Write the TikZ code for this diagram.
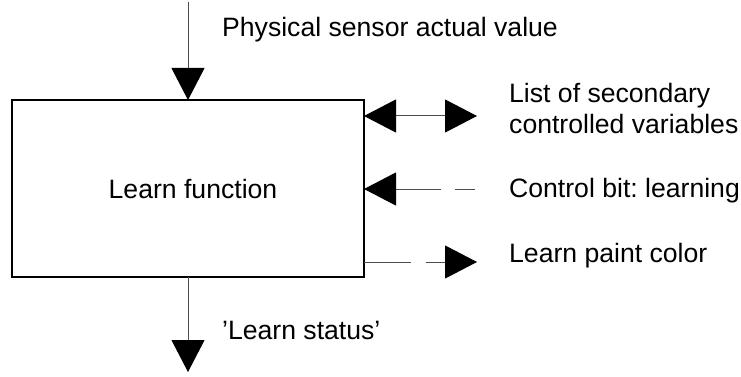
\documentclass[tikz,border=0pt]{standalone}
\usepackage{fontspec}
\setmainfont{Liberation Sans}
\usetikzlibrary{arrows.meta}
\frenchspacing
\begin{document}
\begin{tikzpicture}[x=1pt,y=-1pt,
  lbl/.style={anchor=base west,inner sep=0pt,font=\fontsize{26.6}{31}\selectfont},
  conn/.style={draw=black!70,line width=1pt},
  bighead/.style={-{Triangle[length=32pt,width=33pt,color=black]}},
  twohead/.style={{Triangle[length=32pt,width=33pt,color=black]}-{Triangle[length=32pt,width=33pt,color=black]}}]
\useasboundingbox (0,0) rectangle (741,377);
\node[draw,line width=2pt,outer sep=0pt,minimum width=352pt,minimum height=177pt,inner sep=0pt,
  font=\fontsize{26.6}{31}\selectfont] (box) at (188,188.5) {\hspace{10pt}Learn function};
\coordinate (top) at (188,2);
\coordinate (bot) at (188,372);
\coordinate (d1) at (477,116);
\coordinate (c1) at (475,189);
\coordinate (p1) at (477,262);
\draw[conn,bighead] (top) -- (box.north);
\draw[conn,bighead] (box.south) -- (bot);
\draw[conn,twohead] (d1 -| box.east) -- (d1);
\draw[conn,bighead,dash pattern=on 20pt off 14pt on 400pt] (c1) -- (c1 -| box.east);
\draw[conn,bighead,dash pattern=on 47pt off 15pt on 400pt] (p1 -| box.east) -- (p1);
\node[lbl] (t1) at (222,37) {Physical sensor actual value};
\node[lbl,align=left,anchor=north west] (t2) at (509,83) {List of secondary\\controlled variables};
\node[lbl] (t3) at (509,197) {Control bit: learning};
\node[lbl] (t4) at (509,262) {Learn paint color};
\node[lbl] (t5) at (222,339) {'Learn status'};
\end{tikzpicture}
\end{document}
